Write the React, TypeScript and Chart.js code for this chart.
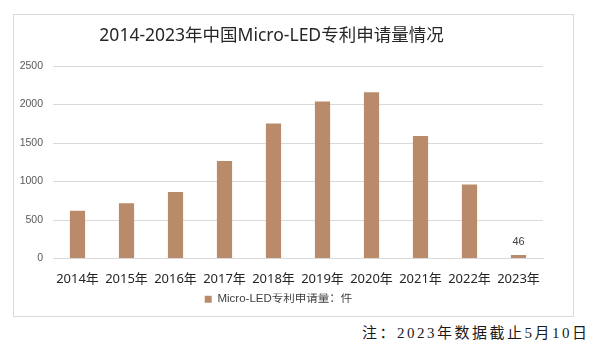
import React, { useEffect, useRef } from "react";
import { Chart, registerables } from "chart.js";

Chart.register(...registerables);

const TITLE = "2014-2023年中国Micro-LED专利申请量情况";
const SERIES_NAME = "Micro-LED专利申请量：件";
const NOTE = "注：2023年数据截止5月10日";
const categories = ["2014年", "2015年", "2016年", "2017年", "2018年", "2019年", "2020年", "2021年", "2022年", "2023年"];
const values = [621, 717, 865, 1265, 1752, 2039, 2160, 1592, 960, 46];
const labeledIndices = [9];
const yMax = 2500;
const yStep = 500;

const BAR_COLOR = "#BA8B6A";
const GRID_COLOR = "#D9D9D9";

export default function App() {
  const canvasRef = useRef<HTMLCanvasElement | null>(null);

  useEffect(() => {
    const canvas = canvasRef.current;
    if (!canvas) return;

    const overlay = {
      id: "overlay",
      afterDraw(chart: any) {
        const ctx = chart.ctx;
        ctx.save();
        ctx.fillStyle = "#262626";
        ctx.font = '17.5px "Noto Sans", "Noto Sans CJK SC", sans-serif';
        ctx.textAlign = "center";
        ctx.textBaseline = "middle";
        ctx.fillText(TITLE, 257.5, 21);
        const meta = chart.getDatasetMeta(0);
        ctx.fillStyle = "#404040";
        ctx.font = '11px "Liberation Sans", sans-serif';
        ctx.textBaseline = "bottom";
        labeledIndices.forEach((i) => {
          const el = meta.data[i];
          ctx.fillText(String(values[i]), el.x, el.y - 7);
        });
        ctx.restore();
      },
    };

    const chart = new Chart(canvas, {
      type: "bar",
      data: {
        labels: categories,
        datasets: [
          {
            label: SERIES_NAME,
            data: values,
            backgroundColor: BAR_COLOR,
            borderWidth: 0,
            barPercentage: 0.31,
            categoryPercentage: 1,
          },
        ],
      },
      options: {
        animation: false,
        responsive: false,
        devicePixelRatio: 1,
        layout: { padding: { top: 51, left: 0, right: 29, bottom: 0 } },
        plugins: {
          title: { display: false },
          tooltip: { enabled: false },
          legend: {
            display: true,
            position: "bottom",
            labels: {
              boxWidth: 7,
              boxHeight: 7,
              padding: 0,
              color: "#404040",
              font: { size: 11.5, family: '"Liberation Sans", "Noto Sans CJK SC", sans-serif' },
            },
          },
        },
        scales: {
          x: {
            grid: { display: false, drawTicks: false },
            border: { display: true, color: GRID_COLOR, width: 1 },
            ticks: {
              color: "#262626",
              padding: 13,
              maxRotation: 0,
              autoSkip: false,
              font: { size: 13, family: '"Noto Sans", "Noto Sans CJK SC", sans-serif' },
            },
            afterFit(scale: any) {
              scale.height = 35;
            },
          },
          y: {
            min: 0,
            max: yMax,
            grid: { color: GRID_COLOR, lineWidth: 1, drawTicks: false },
            border: { display: false },
            ticks: {
              stepSize: yStep,
              color: "#595959",
              padding: 10,
              font: { size: 10.5, family: '"Liberation Sans", sans-serif' },
              callback: (v: any) => String(v),
            },
            afterFit(scale: any) {
              scale.width = 39;
            },
          },
        },
      },
      plugins: [overlay],
    });

    return () => chart.destroy();
  }, []);

  return (
    <div style={{ position: "absolute", left: 0, top: 0, width: 596, height: 361, background: "#fff" }}>
      <div
        style={{
          position: "absolute",
          left: 13,
          top: 14,
          width: 561,
          height: 303,
          boxSizing: "border-box",
          border: "1px solid #D9D9D9",
        }}
      />
      <canvas
        ref={canvasRef}
        width={558}
        height={300}
        style={{ position: "absolute", left: 14, top: 15, width: 558, height: 300 }}
      />
      <div
        style={{
          position: "absolute",
          left: 362,
          top: 323,
          fontFamily: '"Liberation Serif", "Noto Sans CJK SC", serif',
          fontSize: 15,
          letterSpacing: 2.5,
          color: "#1a1a1a",
          whiteSpace: "nowrap",
          lineHeight: "20px",
        }}
      >
        {NOTE}
      </div>
    </div>
  );
}
